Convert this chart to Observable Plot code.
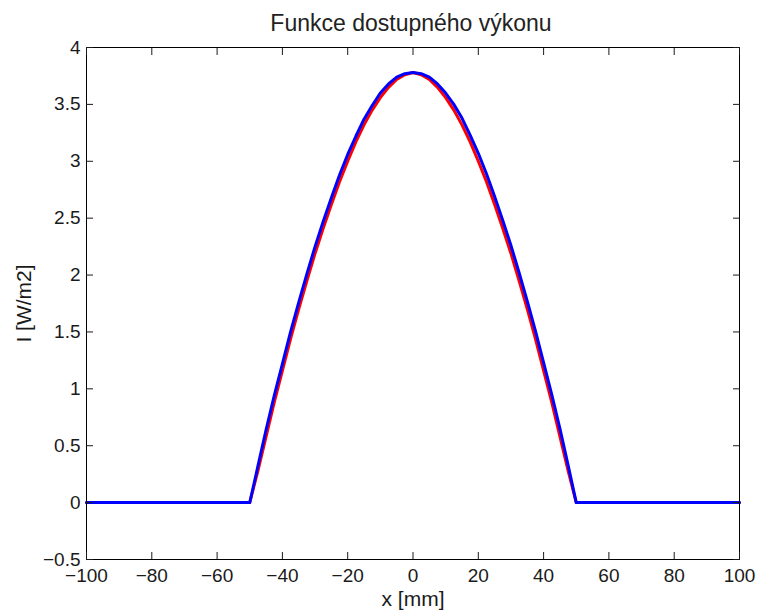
<!DOCTYPE html>
<html><head><meta charset="utf-8">
<script src="https://cdn.jsdelivr.net/npm/d3@7"></script>
<script src="https://cdn.jsdelivr.net/npm/@observablehq/plot@0.6"></script>
<style>
body{margin:0;background:#fff;}
#wrap{position:relative;width:760px;height:613px;}
#title{position:absolute;left:0;top:8px;width:760px;padding-left:62px;box-sizing:border-box;text-align:center;font-family:"Liberation Sans",Arial,sans-serif;font-size:23px;color:#222;line-height:30px;}
</style></head><body>
<div id="wrap"><div id="title">Funkce dostupného výkonu</div></div>
<script>
const titleText = "Funkce dostupného výkonu";
const xLabel = "x [mm]";
const yLabel = "I [W/m2]";

const xs = [-100, -50, -47.5, -45, -42.5, -40, -37.5, -35, -32.5, -30, -27.5, -25, -22.5, -20, -17.5, -15, -12.5, -10, -7.5, -5, -2.5, 0, 2.5, 5, 7.5, 10, 12.5, 15, 17.5, 20, 22.5, 25, 27.5, 30, 32.5, 35, 37.5, 40, 42.5, 45, 47.5, 50, 100];
const blueI = [0, 0, 0.32, 0.64, 0.94, 1.22, 1.50, 1.76, 2.01, 2.25, 2.47, 2.68, 2.88, 3.06, 3.22, 3.37, 3.49, 3.60, 3.68, 3.74, 3.77, 3.78, 3.77, 3.74, 3.68, 3.60, 3.50, 3.38, 3.23, 3.07, 2.89, 2.69, 2.48, 2.26, 2.02, 1.77, 1.51, 1.23, 0.95, 0.65, 0.33, 0, 0];
const redI = [0, 0, 0.28, 0.58, 0.88, 1.16, 1.44, 1.70, 1.95, 2.19, 2.41, 2.62, 2.82, 3.00, 3.17, 3.32, 3.45, 3.56, 3.65, 3.72, 3.76, 3.78, 3.76, 3.72, 3.65, 3.56, 3.45, 3.32, 3.17, 3.00, 2.82, 2.62, 2.41, 2.19, 1.95, 1.70, 1.44, 1.16, 0.88, 0.58, 0.28, 0, 0];

const xTicks = [-100, -80, -60, -40, -20, 0, 20, 40, 60, 80, 100];
const xTickLabels = ["\u2212100", "\u221280", "\u221260", "\u221240", "\u221220", "0", "20", "40", "60", "80", "100"];
const yTicks = [-0.5, 0, 0.5, 1, 1.5, 2, 2.5, 3, 3.5, 4];
const yTickLabels = ["\u22120.5", "0", "0.5", "1", "1.5", "2", "2.5", "3", "3.5", "4"];

document.getElementById("title").textContent = titleText;

const redRows = xs.map((x, i) => ({x, I: redI[i]}));
const blueRows = xs.map((x, i) => ({x, I: blueI[i]}));
const empty = () => "";

const chart = Plot.plot({
  width: 760, height: 613,
  marginTop: 47, marginBottom: 54, marginLeft: 86, marginRight: 21,
  style: {fontFamily: '"Liberation Sans", Arial, sans-serif', fontSize: "19px", color: "#1a1a1a", background: "transparent", overflow: "visible"},
  x: {domain: [-100, 100]},
  y: {domain: [-0.5, 4]},
  marks: [
    Plot.line(redRows, {x: "x", y: "I", stroke: "#ff0000", strokeWidth: 3}),
    Plot.line(blueRows, {x: "x", y: "I", stroke: "#0000ff", strokeWidth: 3}),
    Plot.frame({stroke: "#000", strokeWidth: 1}),
    Plot.axisX(xTicks, {anchor: "bottom", tickSize: 0, tickPadding: 9, tickFormat: (d) => xTickLabels[xTicks.indexOf(d)], label: null}),
    Plot.axisX(xTicks, {anchor: "bottom", tickSize: 0, tickFormat: empty, label: xLabel, labelArrow: "none", labelAnchor: "center", labelOffset: 46, fontSize: 21}),
    Plot.axisX(xTicks, {anchor: "bottom", tickSize: -7, tickFormat: empty, label: null}),
    Plot.axisX(xTicks, {anchor: "top", tickSize: -7, tickFormat: empty, label: null}),
    Plot.axisY(yTicks, {anchor: "left", tickSize: 0, tickPadding: 6, tickFormat: (d) => yTickLabels[yTicks.indexOf(d)], label: null}),
    Plot.axisY(yTicks, {anchor: "left", tickSize: 0, tickFormat: empty, label: yLabel, labelArrow: "none", labelAnchor: "center", labelOffset: 70, fontSize: 21}),
    Plot.axisY(yTicks, {anchor: "left", tickSize: -7, tickFormat: empty, label: null}),
    Plot.axisY(yTicks, {anchor: "right", tickSize: -7, tickFormat: empty, label: null})
  ]
});
chart.style.position = "absolute";
chart.style.left = "0";
chart.style.top = "0";
document.getElementById("wrap").insertBefore(chart, document.getElementById("title"));
</script>
</body></html>
